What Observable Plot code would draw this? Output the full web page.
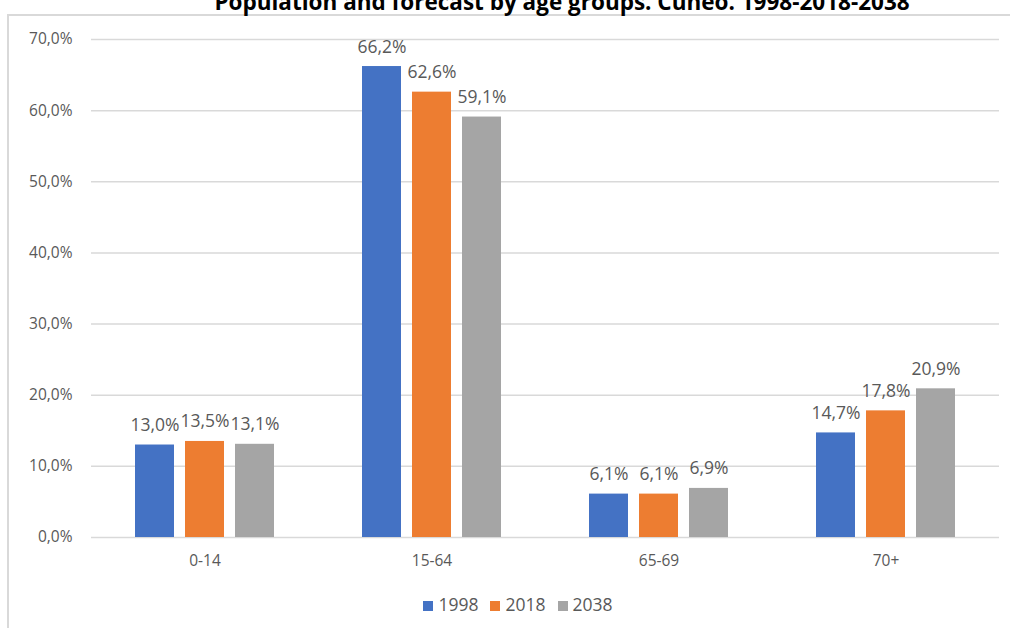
<!DOCTYPE html>
<html>
<head>
<meta charset="utf-8">
<script src="https://cdn.jsdelivr.net/npm/d3@7"></script>
<script src="https://cdn.jsdelivr.net/npm/@observablehq/plot@0.6"></script>
<style>
  html, body { margin: 0; padding: 0; background: #fff; overflow: hidden; }
  #wrap { position: relative; width: 1010px; height: 628px; font-family: "Open Sans", "Noto Sans", sans-serif; }
  #frame { position: absolute; left: 7px; top: 14px; width: 1010px; height: 620px; border-left: 2px solid #d9d9d9; border-top: 2px solid #d9d9d9; box-sizing: border-box; }
  #title { position: absolute; left: 0; width: 1124px; text-align: center; top: -12px; font-size: 22.5px; line-height: 28px; font-weight: bold; color: #000; white-space: nowrap; }
  #chart { position: absolute; left: 0; top: 0; }
  #legend { position: absolute; top: 592px; left: 0; width: 1036px; text-align: center; font-size: 17.5px; color: #595959; }
  #legend span.item { display: inline-block; margin: 0 6px; }
  #legend span.sw { display: inline-block; width: 10px; height: 10px; margin-right: 5px; vertical-align: 0px; }
</style>
</head>
<body>
<div id="wrap">
  <div id="frame"></div>
  <div id="title">Population and forecast by age groups. Cuneo. 1998-2018-2038</div>
  <div id="chart"></div>
  <div id="legend"></div>
</div>
<script>
const categories = ["0-14", "15-64", "65-69", "70+"];
const years = ["1998", "2018", "2038"];
const colors = ["#4472C4", "#ED7D31", "#A5A5A5"];
const values1998 = [13.0, 66.2, 6.1, 14.7];
const values2018 = [13.5, 62.6, 6.1, 17.8];
const values2038 = [13.1, 59.1, 6.9, 20.9];
const yTicks = [0, 10, 20, 30, 40, 50, 60, 70];

const series = [values1998, values2018, values2038];
const data = [];
categories.forEach((c, i) => {
  years.forEach((y, j) => data.push({category: c, year: y, value: series[j][i]}));
});
const fmt = v => v.toFixed(1).replace(".", ",") + "%";

const chart = Plot.plot({
  width: 1010,
  height: 628,
  marginLeft: 90,
  marginRight: 10,
  marginTop: 39,
  marginBottom: 91,
  style: {fontFamily: "'Open Sans', 'Noto Sans', sans-serif", fontSize: "15.5px", color: "#595959", background: "transparent"},
  fx: {domain: categories, padding: 0, label: null, axis: "bottom", tickSize: 0, tickPadding: 17},
  x: {domain: years, paddingInner: 0.216, paddingOuter: 0.838, axis: null},
  y: {domain: [0, 70], ticks: yTicks, tickFormat: fmt, label: null, tickSize: 0, tickPadding: 19},
  color: {domain: years, range: colors},
  marks: [
    Plot.gridY(yTicks, {stroke: "#d9d9d9", strokeOpacity: 1, strokeWidth: 1.5}),
    Plot.barY(data, {fx: "category", x: "year", y: "value", fill: "year"}),
    Plot.text(data, {fx: "category", x: "year", y: "value", text: d => fmt(d.value), lineAnchor: "bottom", dy: -14, fill: "#595959", fontSize: 17.5})
  ]
});
document.getElementById("chart").appendChild(chart);

const legend = document.getElementById("legend");
years.forEach((y, i) => {
  const item = document.createElement("span");
  item.className = "item";
  item.innerHTML = `<span class="sw" style="background:${colors[i]}"></span>${y}`;
  legend.appendChild(item);
});
</script>
</body>
</html>
